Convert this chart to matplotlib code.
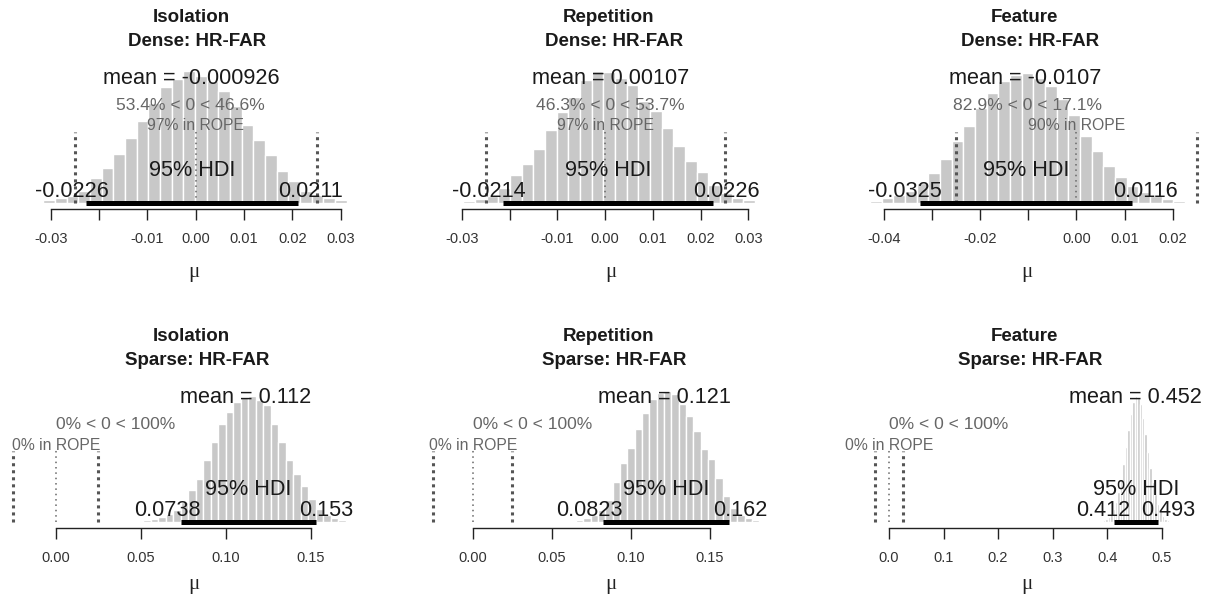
import matplotlib
matplotlib.use('Agg')
import matplotlib.pyplot as plt
import numpy as np

plt.rcParams['font.family'] = ['Liberation Sans', 'DejaVu Sans']

# titles
conds = ['Isolation', 'Repetition', 'Feature']
rows = ['Dense: HR-FAR', 'Sparse: HR-FAR']

# posterior summaries, panels in order: dense iso/rep/feat, sparse iso/rep/feat
means = [-0.000926, 0.00107, -0.0107, 0.112, 0.121, 0.452]
hdi_low = [-0.0226, -0.0214, -0.0325, 0.0738, 0.0823, 0.412]
hdi_high = [0.0211, 0.0226, 0.0116, 0.153, 0.162, 0.493]
pct_below = [53.4, 46.3, 82.9, 0, 0, 0]
pct_above = [46.6, 53.7, 17.1, 100, 100, 100]
pct_rope = [97, 97, 90, 0, 0, 0]
rope = [-0.025, 0.025]
comp_val = 0

# histogram bins (first edge, bin width, bar heights)
bin_start = [-0.03153, -0.02973, -0.04290, 0.05155, 0.0653, 0.392]
bin_width = [0.002414, 0.002445, 0.002425, 0.004412, 0.004635, 0.0045]
heights = [
    [3, 5, 7, 12, 25, 35, 49, 65, 82, 100, 116, 124, 132, 127, 122, 112, 97, 78, 63, 48, 32, 22, 12, 8, 5, 3],
    [2, 4, 7, 15, 28, 39, 54, 73, 91, 106, 123, 132, 131, 125, 118, 102, 92, 75, 57, 42, 31, 18, 10, 5, 3],
    [2, 5, 8, 12, 20, 30, 44, 62, 77, 95, 110, 122, 128, 130, 125, 117, 104, 88, 67, 52, 37, 26, 17, 11, 7, 4, 2],
    [2, 3, 5, 8, 12, 20, 32, 43, 62, 80, 98, 110, 120, 125, 126, 122, 117, 98, 80, 62, 48, 36, 23, 13, 7, 4, 2],
    [2, 4, 7, 12, 22, 40, 59, 74, 93, 109, 123, 129, 131, 128, 118, 106, 91, 73, 63, 44, 26, 14, 7, 4, 2],
    [2, 3, 5, 8, 13, 20, 30, 43, 58, 75, 92, 108, 120, 126, 124, 118, 104, 88, 70, 54, 40, 28, 18, 11, 6, 3, 2],
]

# axis ticks
ticks = [
    [-0.03, -0.02, -0.01, 0.0, 0.01, 0.02, 0.03],
    [-0.03, -0.02, -0.01, 0.0, 0.01, 0.02, 0.03],
    [-0.04, -0.03, -0.02, -0.01, 0.0, 0.01, 0.02],
    [0.0, 0.05, 0.10, 0.15],
    [0.0, 0.05, 0.10, 0.15],
    [0.0, 0.1, 0.2, 0.3, 0.4, 0.5],
]
tick_labels = [
    ['-0.03', '', '-0.01', '0.00', '0.01', '0.02', '0.03'],
    ['-0.03', '', '-0.01', '0.00', '0.01', '0.02', '0.03'],
    ['-0.04', '', '-0.02', '', '0.00', '0.01', '0.02'],
    ['0.00', '0.05', '0.10', '0.15'],
    ['0.00', '0.05', '0.10', '0.15'],
    ['0.0', '0.1', '0.2', '0.3', '0.4', '0.5'],
]

# layout (pixels)
W, H = 1210, 605
col_px = [(5, 395), (405, 795), (812, 1202)]
row_base = [203, 522]
ax_h = 158
xlims = [(-0.03946, 0.04124), (-0.04195, 0.03977), (-0.05496, 0.02611),
         (-0.02982, 0.19959), (-0.04279, 0.20373), (-0.14121, 0.57400)]
title_x = [191, 608, 1024]
mu_x = [194, 611, 1027]

fig = plt.figure(figsize=(12.1, 6.05), dpi=100)
renderer = fig.canvas.get_renderer()

txt_col = '#1a1a1a'
grey_txt = '#666666'

for i in range(6):
    r, c = divmod(i, 3)
    x0, x1 = col_px[c]
    ax = fig.add_axes([x0 / W, 1 - row_base[r] / H, (x1 - x0) / W, ax_h / H])
    ax.set_xlim(*xlims[i])
    ax.set_ylim(0, ax_h)
    px_per_unit = (x1 - x0) / (xlims[i][1] - xlims[i][0])

    h = heights[i]
    edges = bin_start[i] + bin_width[i] * np.arange(len(h))
    ax.bar(edges, h, width=bin_width[i], align='edge', color='#c8c8c8',
           edgecolor='white', linewidth=1.0, zorder=1)

    # comparison value line
    ax.plot([comp_val, comp_val], [0, 72], color='#666666', lw=1.1,
            ls=(0, (1, 2.5)), zorder=2, clip_on=False)
    # ROPE lines
    for rv in rope:
        ax.plot([rv, rv], [0, 71], color='#555555', lw=2.2,
                ls=(0, (1.0, 1.3)), zorder=2, clip_on=False)

    # HDI bar
    ax.plot([hdi_low[i], hdi_high[i]], [0, 0], color='black', lw=3.6,
            solid_capstyle='butt', zorder=3, clip_on=False)

    ax.text(means[i], 119, f'mean = {means[i]:.3g}', ha='center', va='baseline',
            fontsize=15.6, color=txt_col, zorder=4)
    ax.text((hdi_low[i] + hdi_high[i]) / 2, 27, '95% HDI', ha='center', va='baseline',
            fontsize=15.6, color=txt_col, zorder=4)

    # HDI endpoint labels, R-style adj 0.7 / 0.3
    for val, frac in [(hdi_low[i], 0.7), (hdi_high[i], 0.3)]:
        t = ax.text(val, 6.5, f'{val:.3g}', ha='left', va='baseline',
                    fontsize=15.6, color=txt_col, zorder=4)
        w = t.get_window_extent(renderer).width
        t.set_x(val - frac * w / px_per_unit)

    cv_txt = f'{pct_below[i]:g}% < {comp_val:g} < {pct_above[i]:g}%'
    t = ax.text(comp_val, 93, cv_txt, ha='left', va='baseline', fontsize=12.6,
                color=grey_txt, zorder=4)
    w = t.get_window_extent(renderer).width
    t.set_x(comp_val - pct_below[i] / 100 * w / px_per_unit)

    ax.text(np.mean(rope), 72.5, f'{pct_rope[i]:g}% in ROPE', ha='center', va='baseline',
            fontsize=11.3, color=grey_txt, zorder=4)

    for s in ['left', 'right', 'top']:
        ax.spines[s].set_visible(False)
    ax.spines['bottom'].set_position(('outward', 4.3))
    ax.spines['bottom'].set_bounds(ticks[i][0], ticks[i][-1])
    ax.spines['bottom'].set_linewidth(1.0)
    ax.spines['bottom'].set_color('#222222')
    ax.set_yticks([])
    ax.set_xticks(ticks[i])
    ax.set_xticklabels(tick_labels[i])
    ax.tick_params(axis='x', direction='out', length=7.9, width=1.0, pad=8.5,
                   labelsize=10.5, labelcolor='#333333', color='#222222')
    ax.patch.set_alpha(0)

    # titles and axis label
    base1 = 21.7 if r == 0 else 340.7
    fig.text(title_x[c] / W, 1 - base1 / H, conds[c], ha='center', va='baseline',
             fontsize=13.5, fontweight='bold', color=txt_col)
    fig.text((title_x[c] + 6) / W, 1 - (base1 + 24) / H, rows[r], ha='center',
             va='baseline', fontsize=13.5, fontweight='bold', color=txt_col)
    mu_y = 273 if r == 0 else 585
    fig.text(mu_x[c] / W, 1 - mu_y / H, 'μ', ha='center', va='center',
             fontsize=15, family=['Liberation Serif', 'DejaVu Serif'], color='#222222')

fig.savefig('out.png', dpi=100)
